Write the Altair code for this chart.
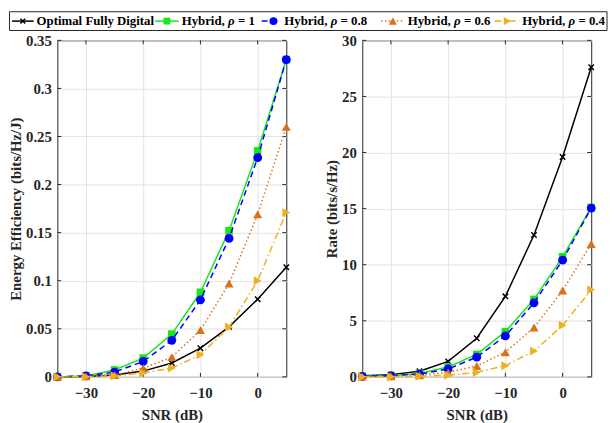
import altair as alt
import pandas as pd

# ---------------- data ----------------
snr = [-35, -30, -25, -20, -15, -10, -5, 0, 5]

ee_optimal = [0.0, 0.0005, 0.002, 0.006, 0.0144, 0.0298, 0.052, 0.0808, 0.114]
ee_rho1 = [0.0, 0.001, 0.0072, 0.0195, 0.0445, 0.088, 0.152, 0.235, 0.330]
ee_rho08 = [0.0, 0.001, 0.005, 0.016, 0.038, 0.080, 0.144, 0.228, 0.330]
ee_rho06 = [0.0, 0.0005, 0.002, 0.009, 0.0205, 0.0486, 0.097, 0.169, 0.260]
ee_rho04 = [0.0, 0.0002, 0.001, 0.004, 0.0092, 0.023, 0.0517, 0.100, 0.171]

rate_optimal = [0.1, 0.2, 0.5, 1.38, 3.44, 7.18, 12.65, 19.6, 27.6]
rate_rho1 = [0.05, 0.1, 0.3, 0.88, 2.0, 4.03, 6.9, 10.7, 15.1]
rate_rho08 = [0.05, 0.1, 0.25, 0.7, 1.76, 3.65, 6.59, 10.4, 15.05]
rate_rho06 = [0.02, 0.05, 0.15, 0.4, 0.97, 2.2, 4.4, 7.7, 11.85]
rate_rho04 = [0.0, 0.02, 0.05, 0.15, 0.4, 1.0, 2.3, 4.6, 7.76]

x_ticks = [-30, -20, -10, 0]
ee_ticks = [0, 0.05, 0.1, 0.15, 0.2, 0.25, 0.3, 0.35]
rate_ticks = [0, 5, 10, 15, 20, 25, 30]

legend_prefix = ["Optimal Fully Digital", "Hybrid,", "Hybrid,", "Hybrid,", "Hybrid,"]
legend_rho_value = ["", "= 1", "= 0.8", "= 0.6", "= 0.4"]

# ---------------- styles ----------------
FONT = "Liberation Serif"
CROSS = "M-1,-1L1,1M-1,1L1,-1"
STYLES = [
    dict(color="#000000", dash=None, shape=CROSS, filled=False, size=30),
    dict(color="#19e619", dash=None, shape="square", filled=True, size=60),
    dict(color="#0000ff", dash=[6, 4], shape="circle", filled=True, size=80),
    dict(color="#d9701a", dash=[1.5, 2.5], shape="triangle-up", filled=True, size=85),
    dict(color="#edb120", dash=[7, 3, 1.5, 3], shape="triangle-right", filled=True, size=85),
]

W, H = 232, 341
XDOM = [-35, 5]


def panel(series, ytitle, ymax, yticks, fmt):
    xs = alt.Scale(domain=XDOM, nice=False, zero=False)
    ys = alt.Scale(domain=[0, ymax], nice=False, zero=False)
    xaxis = alt.Axis(values=x_ticks, title="SNR (dB)", format="d")
    yaxis = alt.Axis(values=yticks, title=ytitle, format=fmt)
    layers = []
    # inner ticks (MATLAB box style)
    xt = pd.DataFrame({"t": x_ticks})
    yt = pd.DataFrame({"t": yticks})
    tick_style = dict(color="#262626", strokeWidth=1)
    layers.append(alt.Chart(xt).mark_rule(**tick_style).encode(
        x=alt.X("t:Q", scale=xs, axis=xaxis), y=alt.value(H), y2=alt.value(H - 4)))
    layers.append(alt.Chart(xt).mark_rule(**tick_style).encode(
        x=alt.X("t:Q", scale=xs, axis=xaxis), y=alt.value(0), y2=alt.value(4)))
    layers.append(alt.Chart(yt).mark_rule(**tick_style).encode(
        y=alt.Y("t:Q", scale=ys, axis=yaxis), x=alt.value(0), x2=alt.value(4)))
    layers.append(alt.Chart(yt).mark_rule(**tick_style).encode(
        y=alt.Y("t:Q", scale=ys, axis=yaxis), x=alt.value(W), x2=alt.value(W - 4)))
    for vals, st in zip(series, STYLES):
        df = pd.DataFrame({"snr": snr, "v": vals})
        base = alt.Chart(df).encode(
            x=alt.X("snr:Q", scale=xs, axis=xaxis),
            y=alt.Y("v:Q", scale=ys, axis=yaxis),
        )
        lkw = dict(color=st["color"], strokeWidth=1.5)
        if st["dash"]:
            lkw["strokeDash"] = st["dash"]
        layers.append(base.mark_line(**lkw))
        if st["filled"]:
            layers.append(base.mark_point(shape=st["shape"], filled=True, size=st["size"],
                                          color=st["color"], opacity=1))
        else:
            layers.append(base.mark_point(shape=st["shape"], filled=False, size=st["size"],
                                          color=st["color"], strokeWidth=1.5, opacity=1))
    return layers


# ---------------- legend (drawn relative to left panel) ----------------
one = pd.DataFrame({"k": [0]})
LY = -19.5
legend_layers = [
    alt.Chart(one).mark_rect(fill="white", stroke="#262626", strokeWidth=1).encode(
        x=alt.value(-48.5), x2=alt.value(557), y=alt.value(-29), y2=alt.value(-10))
]
sample_pos = [(-46, -24, -35), (99, 123, 111), (207, 227, 219), (328, 352, 340), (443, 468, 456)]
text_pos = [-21, 126, 230, 355, 471]
for i, st in enumerate(STYLES):
    x0, x1, xm = sample_pos[i]
    rkw = dict(color=st["color"], strokeWidth=1.5)
    if st["dash"]:
        rkw["strokeDash"] = st["dash"]
    legend_layers.append(alt.Chart(one).mark_rule(**rkw).encode(
        x=alt.value(x0), x2=alt.value(x1), y=alt.value(LY)))
    legend_layers.append(alt.Chart(one).mark_point(
        shape=st["shape"], filled=st["filled"], size=st["size"] * 0.8,
        color=st["color"], opacity=1, strokeWidth=1.5).encode(
        x=alt.value(xm), y=alt.value(LY)))
    tx = text_pos[i]
    tkw = dict(font=FONT, fontSize=13, fontWeight="bold", align="left",
               baseline="middle", color="#000000")
    legend_layers.append(alt.Chart(one).mark_text(text=legend_prefix[i], **tkw).encode(
        x=alt.value(tx), y=alt.value(LY)))
    if legend_rho_value[i]:
        legend_layers.append(alt.Chart(one).mark_text(text="ρ", fontStyle="italic", **tkw).encode(
            x=alt.value(tx + 47), y=alt.value(LY)))
        legend_layers.append(alt.Chart(one).mark_text(text=legend_rho_value[i], **tkw).encode(
            x=alt.value(tx + 57), y=alt.value(LY)))

left = alt.layer(
    *panel([ee_optimal, ee_rho1, ee_rho08, ee_rho06, ee_rho04],
           "Energy Efficiency (bits/Hz/J)", 0.35, ee_ticks, ".2~f"),
    *legend_layers,
).properties(width=W, height=H)

right = alt.layer(
    *panel([rate_optimal, rate_rho1, rate_rho08, rate_rho06, rate_rho04],
           "Rate (bits/s/Hz)", 30, rate_ticks, "d"),
).properties(width=W, height=H)

chart = alt.hconcat(left, right, spacing=77, bounds="flush").properties(
    padding={"left": 0, "top": 0, "right": 0, "bottom": 0}
).configure_view(
    stroke="#262626", strokeWidth=1
).configure_axis(
    labelFont=FONT, labelFontWeight="bold", labelFontSize=15, labelColor="#262626",
    titleFont=FONT, titleFontWeight="bold", titleFontSize=15, titleColor="#262626",
    gridColor="#e3e3e3", gridWidth=1, domain=False, ticks=False,
).configure_axisX(
    labelPadding=9, titlePadding=7,
).configure_axisY(
    labelPadding=6, titlePadding=2,
)

chart.save("out.html", embed_options={"renderer": "svg", "actions": False})
